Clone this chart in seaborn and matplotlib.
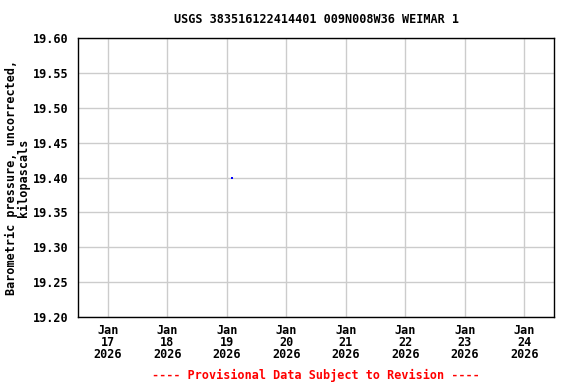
import matplotlib
matplotlib.use("Agg")
import matplotlib.pyplot as plt
import seaborn as sns
import pandas as pd
import numpy as np

# Data
times = pd.to_datetime(["2026-01-19 02:00"])
values = [19.40]
tick_dates = pd.date_range("2026-01-17", "2026-01-24", freq="D")
tick_labels = [f"Jan\n{d.day}\n{d.year}" for d in tick_dates]
y_ticks = [19.20, 19.25, 19.30, 19.35, 19.40, 19.45, 19.50, 19.55, 19.60]

sns.set_theme(style="white")
plt.rcParams['font.family'] = ['DejaVu Sans Mono', 'DejaVu Sans']
plt.rcParams['font.weight'] = 'bold'
plt.rcParams['text.color'] = 'black'
plt.rcParams['axes.labelcolor'] = 'black'
plt.rcParams['xtick.color'] = 'black'
plt.rcParams['ytick.color'] = 'black'

FS = 8.5
fig = plt.figure(figsize=(5.76, 3.84), dpi=100)
ax = fig.add_axes([78/576, 1-317/384, (554-78)/576, (317-38)/384])

df = pd.DataFrame({"time": times, "value": values})
sns.scatterplot(data=df, x="time", y="value", ax=ax, color="blue", s=2,
                marker="s", linewidth=0, zorder=3)

ax.set_xlim(pd.Timestamp("2026-01-16 12:00"), pd.Timestamp("2026-01-24 12:00"))
ax.set_ylim(19.20, 19.60)
ax.set_xticks(tick_dates)
ax.set_xticklabels(tick_labels, fontsize=FS, fontweight='bold', linespacing=0.92)
ax.tick_params(axis='x', length=0, pad=5)
ax.set_yticks(y_ticks)
ax.set_yticklabels([f"{v:.2f}" for v in y_ticks], fontsize=FS, fontweight='bold')
ax.tick_params(axis='y', length=0, pad=7)
ax.grid(True, color="#cccccc", linewidth=1)
for s in ax.spines.values():
    s.set_color("black")
    s.set_linewidth(1)
ax.set_xlabel("")
ax.set_ylabel("Barometric pressure, uncorrected,\nkilopascals", fontsize=FS,
              fontweight='bold', labelpad=2, linespacing=0.92)
ax.set_title("USGS 383516122414401 009N008W36 WEIMAR 1", fontsize=FS,
             fontweight='bold', pad=11)
fig.text(316/576, 1-375/384, "---- Provisional Data Subject to Revision ----",
         color="red", fontsize=FS, fontweight='bold', ha="center", va="center")

fig.savefig("out.png", dpi=100)
